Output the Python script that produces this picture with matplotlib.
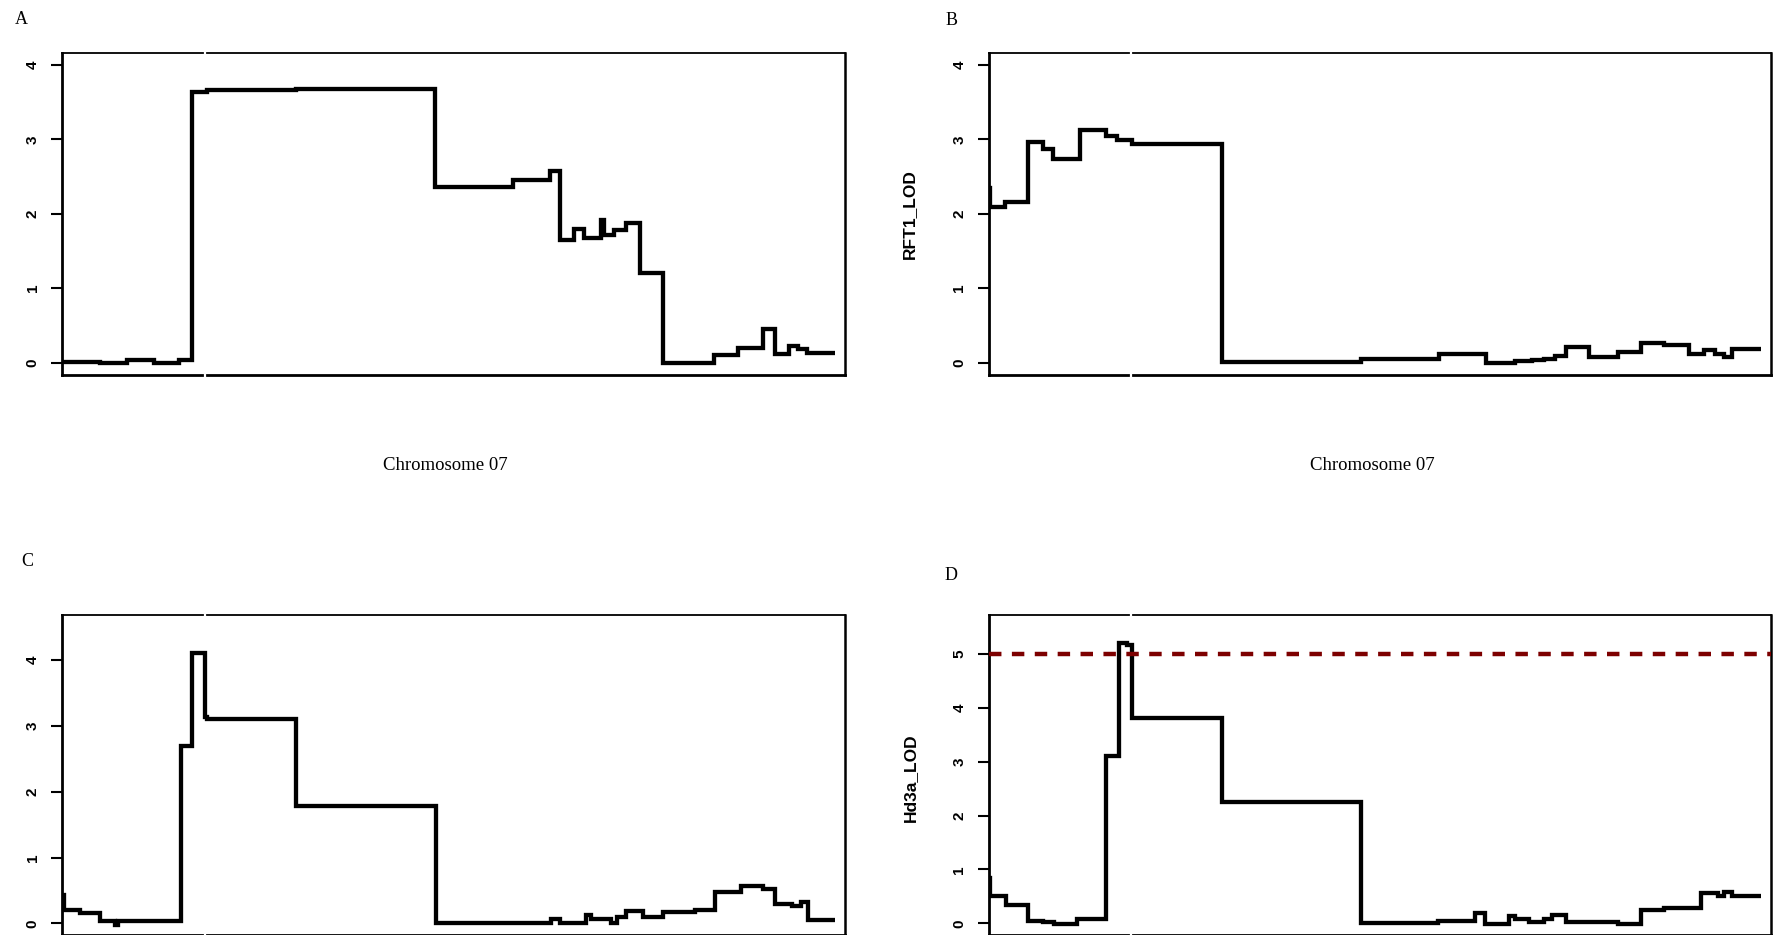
import matplotlib
matplotlib.use("Agg")
import matplotlib.pyplot as plt

W, H, DPI = 1777, 935, 100

# ---------------- data (position along chromosome 07, cM-like scale; LOD) ----------------
a_pos = [0, 4.91, 8.36, 11.73, 14.96, 16.64, 18.48, 29.84, 47.58, 57.55, 62.32, 63.56,
         65.40, 66.72, 68.84, 69.21, 70.53, 71.99, 73.83, 76.76, 83.21, 86.29, 89.59,
         91.06, 92.89, 93.99, 95.09, 98.75]
a_lod = [0.01, -0.01, 0.03, -0.01, 0.04, 3.64, 3.66, 3.68, 2.36, 2.45, 2.57, 1.65,
         1.79, 1.68, 1.91, 1.71, 1.78, 1.88, 1.20, 0.0, 0.10, 0.19, 0.45, 0.11, 0.22,
         0.18, 0.13]

b_pos = [0, 0.22, 2.05, 4.97, 6.95, 8.27, 11.70, 15.00, 16.46, 18.29, 29.85, 47.55,
         57.64, 63.64, 67.30, 69.50, 70.96, 72.42, 73.88, 76.81, 80.47, 83.39, 86.32,
         89.61, 91.44, 92.90, 94.00, 95.10, 98.76]
b_lod = [2.34, 2.09, 2.16, 2.97, 2.87, 2.73, 3.13, 3.05, 2.99, 2.94, 0.01, 0.05, 0.11,
         0.0, 0.02, 0.03, 0.05, 0.09, 0.21, 0.08, 0.14, 0.26, 0.23, 0.12, 0.17, 0.11,
         0.07, 0.18]

c_pos = [0, 0.29, 2.35, 4.91, 6.74, 7.11, 15.18, 16.64, 18.26, 18.48, 29.84, 47.80,
         62.46, 63.56, 66.86, 67.60, 70.16, 70.89, 71.99, 74.19, 76.76, 80.79, 83.36,
         86.66, 89.59, 91.06, 93.26, 94.35, 95.31, 98.75]
c_lod = [0.43, 0.20, 0.15, 0.04, -0.03, 0.03, 2.69, 4.11, 3.14, 3.10, 1.78, 0.0, 0.07,
         0.0, 0.13, 0.06, 0.01, 0.09, 0.19, 0.09, 0.18, 0.20, 0.47, 0.57, 0.52, 0.30,
         0.26, 0.33, 0.05]

d_pos = [0, 0.22, 2.19, 4.97, 6.95, 8.41, 11.34, 15.00, 16.68, 17.70, 18.29, 29.77,
         47.55, 57.42, 62.18, 63.50, 66.57, 67.30, 69.13, 70.96, 72.06, 73.88, 80.47,
         83.39, 86.32, 91.08, 93.27, 94.00, 95.10, 98.76]
d_lod = [0.84, 0.50, 0.34, 0.05, 0.03, -0.01, 0.09, 3.11, 5.20, 5.17, 3.82, 2.26, 0.0,
         0.05, 0.19, -0.01, 0.14, 0.09, 0.03, 0.09, 0.15, 0.03, -0.02, 0.24, 0.29, 0.57,
         0.50, 0.59, 0.51]

d_threshold = 5.0

panel_letters = ["A", "B", "C", "D"]
y_labels = [None, "RFT1_LOD", None, "Hd3a_LOD"]
x_label = "Chromosome 07"
y_ticks = [[0, 1, 2, 3, 4], [0, 1, 2, 3, 4], [0, 1, 2, 3, 4], [0, 1, 2, 3, 4, 5]]
y_ranges = [(0, 4), (0, 4), (0, 4.5), (0, 5.5)]
marker_gap = 18.26

# ---------------- layout ----------------
fig = plt.figure(figsize=(W / DPI, H / DPI), dpi=DPI)

boxes = [(62, 53, 845, 374.5), (988.7, 53, 1770.7, 374.5),
         (62, 615.3, 845, 935.2), (988.7, 615.3, 1770.7, 935.2)]
letter_xy = [(21, 19.5), (952, 20.5), (27, 561), (951, 576)]
xlabel_xy = [(445.5, 466), (1372.6, 466), None, None]
ylabel_xy = [None, (909, 214), None, (910, 778)]

series = [(a_pos, a_lod), (b_pos, b_lod), (c_pos, c_lod), (d_pos, d_lod)]


def fx(x):
    return x / W


def fy(y):
    return 1 - y / H


for i, (l, t, r, b) in enumerate(boxes):
    ax = fig.add_axes([fx(l), fy(b), (r - l) / W, (b - t) / H])
    pos, lod = series[i]
    ax.stairs(lod, pos, baseline=None, color="black", linewidth=3.1, zorder=3)
    lo, hi = y_ranges[i]
    pad = 0.04 * (hi - lo)
    ax.set_ylim(lo - pad, hi + pad)
    ax.set_xlim(0, 100)
    ax.set_xticks([])
    ax.set_yticks(y_ticks[i])
    ax.set_yticklabels([str(v) for v in y_ticks[i]], rotation=90, va="center",
                       fontfamily="Liberation Sans", fontweight="bold", fontsize=11)
    ax.tick_params(axis="y", direction="out", length=8, width=1.5, pad=8, color="black")
    ax.spines["top"].set_linewidth(1.3)
    ax.spines["left"].set_linewidth(2.0)
    ax.spines["bottom"].set_linewidth(2.0)
    ax.spines["right"].set_linewidth(1.8)
    for sp in ax.spines.values():
        sp.set_color("black")
    # small white gaps crossing the frame
    gx = marker_gap
    ax.plot([gx, gx], [1 - 0.012, 1 + 0.012], color="white", lw=1.6,
            transform=ax.get_xaxis_transform(), clip_on=False, zorder=5)
    ax.plot([gx, gx], [-0.012, 0.012], color="white", lw=1.6,
            transform=ax.get_xaxis_transform(), clip_on=False, zorder=5)
    if i == 3:
        ax.axhline(d_threshold, color="#7d0000", linewidth=3.2, dashes=(2.8, 2.35),
                   zorder=4)

    lx, ly = letter_xy[i]
    fig.text(fx(lx), fy(ly), panel_letters[i], ha="center", va="center",
             fontfamily="Liberation Serif", fontsize=13)
    if xlabel_xy[i] is not None:
        x0, y0 = xlabel_xy[i]
        fig.text(fx(x0), fy(y0), x_label, ha="center", va="center",
                 fontfamily="Liberation Serif", fontsize=13.5)
    if ylabel_xy[i] is not None:
        x0, y0 = ylabel_xy[i]
        fig.text(fx(x0), fy(y0), y_labels[i], ha="center", va="center", rotation=90,
                 fontfamily="Liberation Sans", fontweight="bold", fontsize=12.5)

fig.savefig("out.png", dpi=DPI)
